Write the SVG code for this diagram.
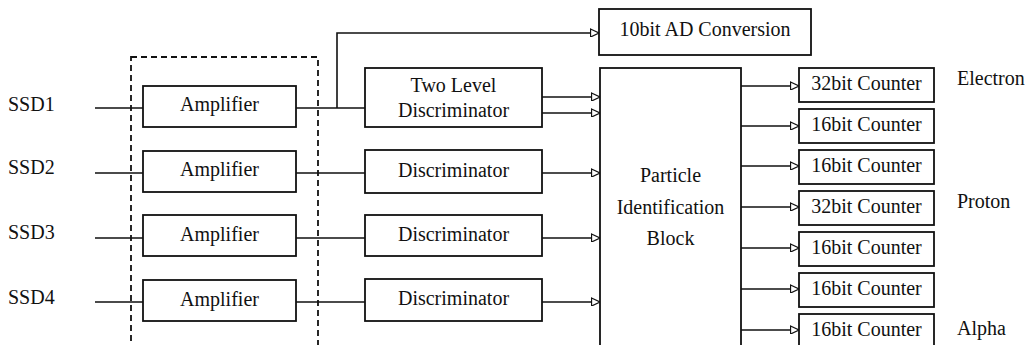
<svg xmlns="http://www.w3.org/2000/svg" width="1035" height="345" viewBox="0 0 1035 345">
<style>
text{font-size:20px;fill:#111}
.c{text-anchor:middle}
.box{fill:#fff;stroke:#111;stroke-width:1.8}
.ln{fill:none;stroke:#111;stroke-width:1.6}
.dash{fill:none;stroke:#111;stroke-width:1.8;stroke-dasharray:6 4}
</style>
<defs>
<marker id="arr" markerUnits="userSpaceOnUse" markerWidth="10" markerHeight="9" refX="8.5" refY="4" orient="auto" viewBox="-1 -1 10 9">
<path d="M0,0 L8.5,4 L0,8 Z" fill="#fff" stroke="#111" stroke-width="1.3"/>
</marker>
</defs>
<rect width="1035" height="345" fill="#fff"/>
<g font-family="'Liberation Serif', 'DejaVu Serif', serif">
<g id="labels">
<text x="8" y="111">SSD1</text>
<text x="8" y="174">SSD2</text>
<text x="8" y="239">SSD3</text>
<text x="8" y="304">SSD4</text>
<text x="957" y="85">Electron</text>
<text x="957" y="208">Proton</text>
<text x="957" y="335">Alpha</text>
</g>
<g id="connectors">
<path class="ln" d="M95,108 H143 M95,173 H143 M95,238 H143 M95,302 H143"/>
<path class="ln" d="M296,108 H365 M296,173 H365 M296,238 H365 M296,302 H365"/>
<path class="ln" d="M337,108 V33 H599" marker-end="url(#arr)"/>
<path class="ln" d="M542,97 H600" marker-end="url(#arr)"/>
<path class="ln" d="M542,113 H600" marker-end="url(#arr)"/>
<path class="ln" d="M542,173 H600" marker-end="url(#arr)"/>
<path class="ln" d="M542,238 H600" marker-end="url(#arr)"/>
<path class="ln" d="M542,302 H600" marker-end="url(#arr)"/>
<path class="ln" d="M741,86 H799" marker-end="url(#arr)"/>
<path class="ln" d="M741,126 H799" marker-end="url(#arr)"/>
<path class="ln" d="M741,166 H799" marker-end="url(#arr)"/>
<path class="ln" d="M741,207 H799" marker-end="url(#arr)"/>
<path class="ln" d="M741,248 H799" marker-end="url(#arr)"/>
<path class="ln" d="M741,289 H799" marker-end="url(#arr)"/>
<path class="ln" d="M741,330 H799" marker-end="url(#arr)"/>
</g>
<g id="amp-group"><rect class="dash" x="131" y="57" width="187" height="310"/></g>
<g id="amp1"><rect class="box" x="143" y="86" width="153" height="41"/><text class="c" x="219.5" y="111">Amplifier</text></g>
<g id="amp2"><rect class="box" x="143" y="151" width="153" height="41"/><text class="c" x="219.5" y="176">Amplifier</text></g>
<g id="amp3"><rect class="box" x="143" y="215" width="153" height="41"/><text class="c" x="219.5" y="241">Amplifier</text></g>
<g id="amp4"><rect class="box" x="143" y="280" width="153" height="41"/><text class="c" x="219.5" y="306">Amplifier</text></g>
<g id="disc1"><rect class="box" x="365" y="68" width="177" height="59"/><text class="c" x="453.5" y="92">Two Level</text><text class="c" x="453.5" y="117">Discriminator</text></g>
<g id="disc2"><rect class="box" x="365" y="150" width="177" height="43"/><text class="c" x="453.5" y="177">Discriminator</text></g>
<g id="disc3"><rect class="box" x="365" y="215" width="177" height="41"/><text class="c" x="453.5" y="241">Discriminator</text></g>
<g id="disc4"><rect class="box" x="365" y="279" width="177" height="42"/><text class="c" x="453.5" y="305">Discriminator</text></g>
<g id="adc"><rect class="box" x="599" y="9" width="212" height="46"/><text class="c" x="705" y="36">10bit AD Conversion</text></g>
<g id="pib"><rect class="box" x="600" y="68" width="141" height="300"/><text class="c" x="670.5" y="182">Particle</text><text class="c" x="670.5" y="213.5">Identification</text><text class="c" x="670.5" y="245">Block</text></g>
<g id="cnt1"><rect class="box" x="799" y="68" width="135" height="34"/><text class="c" x="866.5" y="90">32bit Counter</text></g>
<g id="cnt2"><rect class="box" x="799" y="109" width="135" height="34"/><text class="c" x="866.5" y="131">16bit Counter</text></g>
<g id="cnt3"><rect class="box" x="799" y="150" width="135" height="34"/><text class="c" x="866.5" y="172">16bit Counter</text></g>
<g id="cnt4"><rect class="box" x="799" y="191" width="135" height="34"/><text class="c" x="866.5" y="213">32bit Counter</text></g>
<g id="cnt5"><rect class="box" x="799" y="232" width="135" height="34"/><text class="c" x="866.5" y="254">16bit Counter</text></g>
<g id="cnt6"><rect class="box" x="799" y="273" width="135" height="34"/><text class="c" x="866.5" y="295">16bit Counter</text></g>
<g id="cnt7"><rect class="box" x="799" y="314" width="135" height="34"/><text class="c" x="866.5" y="336">16bit Counter</text></g>
</g>
</svg>
